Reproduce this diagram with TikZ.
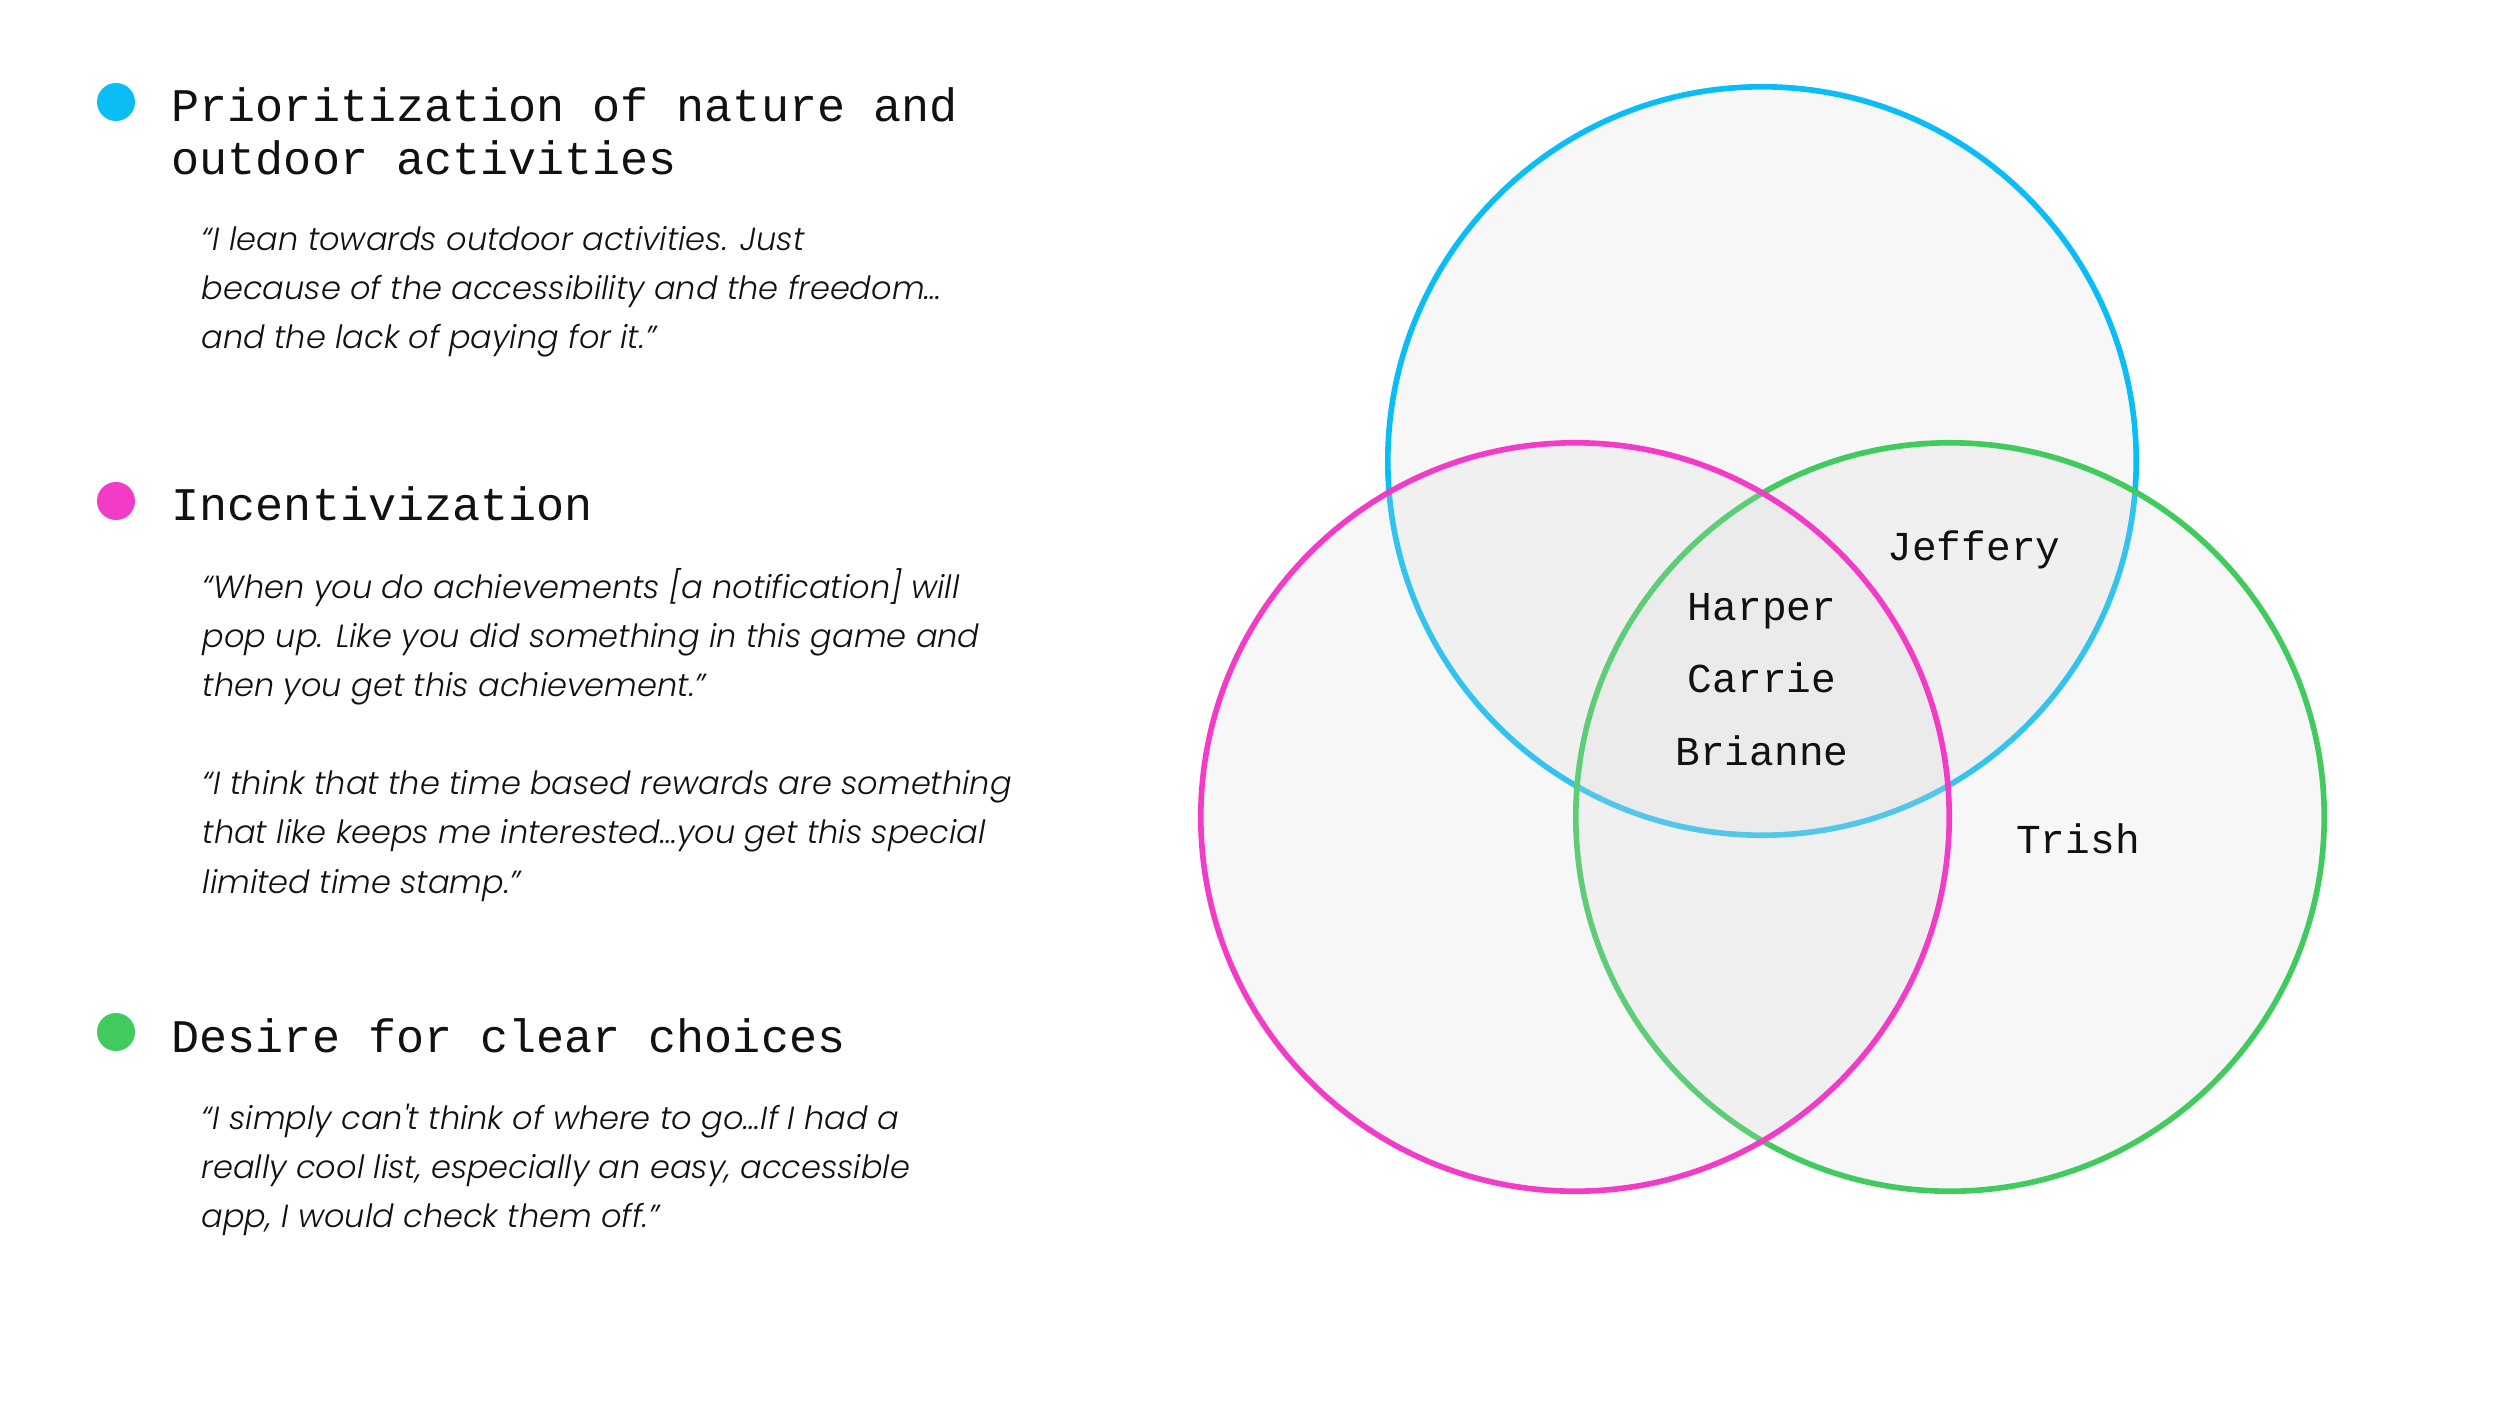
\documentclass[tikz,border=0pt]{standalone}
\usepackage{fontspec}
\usepackage{xcolor}
\usepackage{tikz}
\usetikzlibrary{positioning}
\setmainfont{Poppins}
\newfontfamily\quotefont{Poppins Light Italic}
\newfontfamily\monofont{Liberation Mono}
\definecolor{ink900}{HTML}{111111}
\definecolor{gray300}{HTML}{D7D7D7}
\definecolor{sky500}{HTML}{0ABEF5}
\definecolor{fuchsia500}{HTML}{F23CC8}
\definecolor{green500}{HTML}{41CB5F}
\tikzset{
  every node/.style={inner sep=0pt},
  bullet/.style={
    circle, minimum size=0.38cm, inner sep=0pt
  },
  heading/.style={
    anchor=west, align=left, text=ink900,
    font=\monofont\fontsize{13.3}{15}\selectfont
  },
  quote/.style={
    anchor=west, align=left, text=ink900,
    font=\quotefont\fontsize{9.1}{14}\selectfont
  },
  member/.style={
    text=ink900, font=\monofont\fontsize{11.7}{14}\selectfont
  },
  theme/.style={
    line width=1.6pt, fill=gray300, fill opacity=0.2
  },
}

\begin{document}
\begin{tikzpicture}[x=0.01cm, y=-0.01cm]
  \fill[white] (0,0) rectangle (2500,1406);
  \useasboundingbox (0,0) rectangle (2500,1406);
  \draw[theme, draw=sky500] (1762,461) circle[radius=3.74cm];
  \draw[theme, draw=green500] (1950,817) circle[radius=3.74cm];
  \draw[theme, draw=fuchsia500] (1575,817) circle[radius=3.74cm];
  \node[member] (jeffery) at (1974,550) {Jeffery};
  \node[member] (harper) at (1762,611) {Harper};
  \node[member] (carrie) at (1762,678) {Carrie};
  \node[member] (brianne) at (1762,751) {Brianne};
  \node[member] (trish) at (2078,839) {Trish};
  \node[bullet, fill=sky500] (dotnature) at (116,102) {};
  \node[heading] (nature) at (171,131) {Prioritization of nature and\\outdoor activities};
  \node[quote] (quotenature) at (201,292) {“I lean towards outdoor activities. Just\\because of the accessibility and the freedom…\\and the lack of paying for it.”};
  \node[bullet, fill=fuchsia500] (dotincentive) at (116,501) {};
  \node[heading] (incentive) at (171,504) {Incentivization};
  \node[quote] (quoteachieve) at (202,637) {“When you do achievements [a notification] will\\pop up. Like you did something in this game and\\then you get this achievement.”};
  \node[quote] (quotereward) at (202,836) {“I think that the time based rewards are something\\that like keeps me interested…you get this special\\limited time stamp.”};
  \node[bullet, fill=green500] (dotchoice) at (116,1032) {};
  \node[heading] (choice) at (171,1036) {Desire for clear choices};
  \node[quote] (quotechoice) at (201,1170) {“I simply can't think of where to go…If I had a\\really cool list, especially an easy, accessible\\app, I would check them off.”};
\end{tikzpicture}
\end{document}
